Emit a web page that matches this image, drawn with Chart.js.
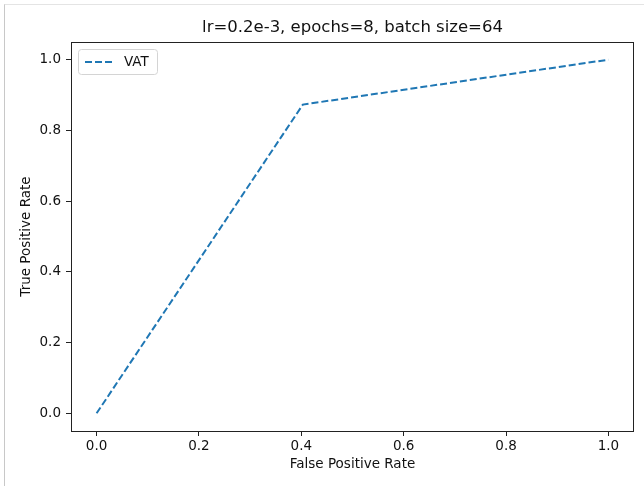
<!DOCTYPE html>
<html>
<head>
<meta charset="utf-8">
<script src="https://cdn.jsdelivr.net/npm/chart.js@4.4.1/dist/chart.umd.min.js"></script>
<style>
  html, body { margin: 0; padding: 0; background: #fff; }
  #wrap { position: relative; width: 644px; height: 486px; }
  #frame {
    position: absolute; left: 4px; top: 4px; width: 660px; height: 500px;
    border-left: 1px solid #c8c8c8; border-top: 1px solid #e4e4e4;
    pointer-events: none;
  }
</style>
</head>
<body>
<div id="wrap">
  <canvas id="roc" width="644" height="486"></canvas>
  <div id="frame"></div>
</div>
<script>
// ROC curve points
const fpr = [0.0, 0.403, 1.0];
const tpr = [0.0, 0.873, 1.0];
const tickValues = [0.0, 0.2, 0.4, 0.6, 0.8, 1.0];
const seriesLabel = 'VAT';
const chartTitle = 'lr=0.2e-3, epochs=8, batch size=64';

const FONT = "'DejaVu Sans', sans-serif";
const LINE_COLOR = '#1f77b4';
const DASH = [7, 3];

// frame, title and legend box drawn straight on the canvas
const decorations = {
    id: 'decorations',
    afterDraw(chart) {
        const ctx = chart.ctx;
        const a = chart.chartArea;
        ctx.save();

        // box around the plot area
        ctx.strokeStyle = '#222';
        ctx.lineWidth = 1;
        ctx.strokeRect(Math.round(a.left) + 0.5, Math.round(a.top) + 0.5,
            Math.round(a.right - a.left) - 1, Math.round(a.bottom - a.top));

        // title
        ctx.fillStyle = '#111';
        ctx.font = '16.5px ' + FONT;
        ctx.textAlign = 'center';
        ctx.textBaseline = 'middle';
        ctx.fillText(chartTitle, (a.left + a.right) / 2, 28);

        // legend
        const lx = 78.5, ly = 49.5, lw = 79, lh = 25;
        ctx.beginPath();
        ctx.roundRect(lx, ly, lw, lh, 3);
        ctx.fillStyle = 'rgba(255,255,255,0.8)';
        ctx.fill();
        ctx.strokeStyle = '#d4d4d4';
        ctx.stroke();

        ctx.beginPath();
        ctx.setLineDash(DASH);
        ctx.strokeStyle = LINE_COLOR;
        ctx.lineWidth = 2;
        ctx.moveTo(85, 62);
        ctx.lineTo(113, 62);
        ctx.stroke();
        ctx.setLineDash([]);

        ctx.fillStyle = '#111';
        ctx.font = '13.5px ' + FONT;
        ctx.textAlign = 'left';
        ctx.fillText(seriesLabel, 124, 62);

        ctx.restore();
    }
};

const axisCommon = {
    type: 'linear',
    min: -0.05,
    max: 1.05,
    afterBuildTicks(scale) {
        scale.ticks = tickValues.map(v => ({ value: v }));
    },
    grid: {
        drawOnChartArea: false,
        drawTicks: true,
        tickLength: 5,
        color: '#222',
        lineWidth: 1
    },
    border: { display: false },
    ticks: {
        color: '#111',
        font: { family: FONT, size: 13.5 },
        callback: v => Number(v).toFixed(1)
    }
};

new Chart(document.getElementById('roc'), {
    type: 'scatter',
    data: {
        datasets: [{
            label: seriesLabel,
            data: fpr.map((x, i) => ({ x: x, y: tpr[i] })),
            showLine: true,
            borderColor: LINE_COLOR,
            borderWidth: 2,
            borderDash: DASH,
            pointRadius: 0,
            fill: false
        }]
    },
    options: {
        responsive: false,
        animation: false,
        layout: { padding: { top: 42, right: 10, left: 0, bottom: 0 } },
        plugins: {
            legend: { display: false },
            title: { display: false },
            tooltip: { enabled: false }
        },
        scales: {
            x: Object.assign({}, axisCommon, {
                position: 'bottom',
                ticks: Object.assign({}, axisCommon.ticks, { padding: 2, maxRotation: 0 }),
                title: {
                    display: true,
                    text: 'False Positive Rate',
                    color: '#111',
                    font: { family: FONT, size: 13.5 },
                    padding: { top: 0, bottom: 13 }
                },
                afterFit(scale) { scale.height = 55; }
            }),
            y: Object.assign({}, axisCommon, {
                position: 'left',
                ticks: Object.assign({}, axisCommon.ticks, { padding: 5 }),
                title: {
                    display: true,
                    text: 'True Positive Rate',
                    color: '#111',
                    font: { family: FONT, size: 13.5 },
                    padding: { top: 18, bottom: 0 }
                },
                afterFit(scale) { scale.width = 71; }
            })
        }
    },
    plugins: [decorations]
});
</script>
</body>
</html>
